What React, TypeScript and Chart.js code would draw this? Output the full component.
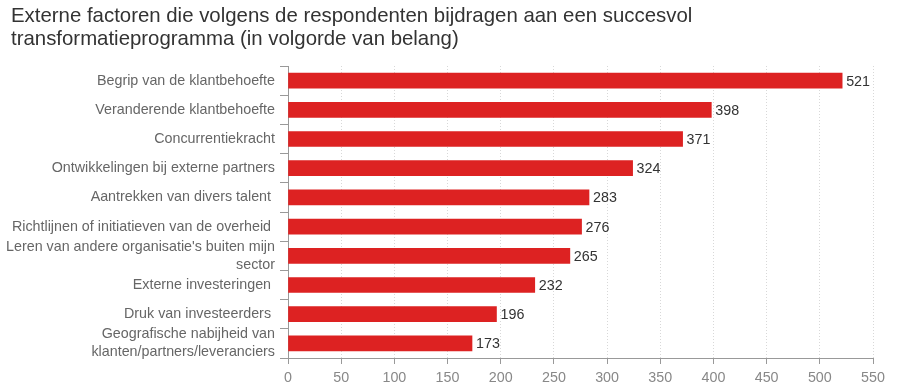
import React, { useEffect, useRef } from "react";
import { Chart, registerables } from "chart.js";

Chart.register(...registerables);

const titleLines = [
  "Externe factoren die volgens de respondenten bijdragen aan een succesvol",
  "transformatieprogramma (in volgorde van belang)",
];

const categories: (string | string[])[] = [
  "Begrip van de klantbehoefte",
  "Veranderende klantbehoefte",
  "Concurrentiekracht",
  "Ontwikkelingen bij externe partners",
  "Aantrekken van divers talent ",
  "Richtlijnen of initiatieven van de overheid ",
  ["Leren van andere organisatie's buiten mijn", "sector"],
  "Externe investeringen ",
  "Druk van investeerders ",
  ["Geografische nabijheid van", "klanten/partners/leveranciers"],
];

const values = [521, 398, 371, 324, 283, 276, 265, 232, 196, 173];

const xTicks = [0, 50, 100, 150, 200, 250, 300, 350, 400, 450, 500, 550];

const FONT = "'Liberation Sans', Arial, Helvetica, sans-serif";

const titlePlugin = {
  id: "leftTitle",
  afterDraw(chart: any) {
    const ctx = chart.ctx;
    ctx.save();
    ctx.font = `20.4px ${FONT}`;
    ctx.fillStyle = "#333";
    ctx.textAlign = "left";
    ctx.textBaseline = "alphabetic";
    titleLines.forEach((line, i) => {
      ctx.fillText(line, 11, 21.5 + i * 23);
    });
    ctx.restore();
  },
};

const valueLabels = {
  id: "valueLabels",
  afterDatasetsDraw(chart: any) {
    const ctx = chart.ctx;
    const meta = chart.getDatasetMeta(0);
    ctx.save();
    ctx.font = `14.3px ${FONT}`;
    ctx.fillStyle = "#333";
    ctx.textAlign = "left";
    ctx.textBaseline = "middle";
    meta.data.forEach((bar: any, i: number) => {
      ctx.fillText(String(values[i]), bar.x + 4, bar.y + 1);
    });
    ctx.restore();
  },
};

export default function App() {
  const ref = useRef<HTMLCanvasElement>(null);

  useEffect(() => {
    if (!ref.current) return;
    const chart = new Chart(ref.current, {
      type: "bar",
      data: {
        labels: categories,
        datasets: [
          {
            data: values,
            backgroundColor: "#dd2222",
            borderWidth: 0,
            barThickness: 15,
          },
        ],
      },
      options: {
        indexAxis: "y",
        animation: false,
        responsive: true,
        maintainAspectRatio: false,
        layout: { padding: { left: 0, right: 27, top: 66, bottom: 0 } },
        plugins: {
          legend: { display: false },
          tooltip: { enabled: false },
          title: { display: false },
        },
        scales: {
          x: {
            type: "linear",
            min: 0,
            max: 550,
            afterBuildTicks: (axis: any) => {
              axis.ticks = xTicks.map((v) => ({ value: v }));
            },
            afterFit: (axis: any) => {
              axis.height = 27;
              axis.paddingLeft = 0;
              axis.paddingRight = 0;
              axis.paddingTop = 0;
              axis.paddingBottom = 0;
            },
            grid: {
              color: "#d8d8d8",
              tickColor: "#999",
              tickLength: 6,
              drawOnChartArea: true,
            },
            border: { display: true, color: "#999", width: 1, dash: [1, 2] },
            ticks: {
              color: "#888",
              font: { family: FONT, size: 14.3 },
              padding: 5,
            },
          },
          y: {
            type: "category",
            afterFit: (axis: any) => {
              axis.width = 288;
              axis.paddingTop = 0;
              axis.paddingBottom = 0;
            },
            grid: {
              offset: true,
              drawOnChartArea: false,
              color: "#999",
              tickColor: "#999",
              tickLength: 8,
            },
            border: { display: true, color: "#999", width: 1 },
            ticks: {
              color: "#666",
              font: { family: FONT, size: 14.3, lineHeight: 1.25 },
              padding: 5,
              autoSkip: false,
            },
          },
        },
      },
      plugins: [valueLabels, titlePlugin],
    });
    return () => chart.destroy();
  }, []);

  return (
    <div style={{ position: "fixed", left: 0, top: 0, width: 900, height: 385 }}>
      <canvas ref={ref} />
    </div>
  );
}
